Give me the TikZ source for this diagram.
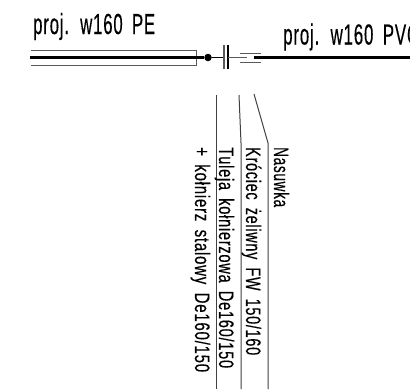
\documentclass[tikz,border=0pt]{standalone}
\usepackage{fontspec}
\setmainfont[WordSpace=1.7,FakeBold=0.4,LetterSpace=5]{Liberation Sans}
\newcommand{\fit}[3]{\resizebox{#1pt}{\height}{\fontsize{#2}{#2}\selectfont #3}}
\tikzset{
  x=1pt,y=-1pt,
  lbl/.style={inner sep=0pt,anchor=base west,text=black},
  vlbl/.style={lbl,rotate=-90},
  thin line/.style={draw=black,line width=1pt},
  gray line/.style={draw=black!65,line width=1pt},
  heavy/.style={draw=black,line width=2.4pt},
  leader/.style={draw=black!75,line width=1pt}
}
\begin{document}
\begin{tikzpicture}
\useasboundingbox (0,0) rectangle (410,389);
\clip (0,0) rectangle (410,389);
\fill[white] (0,0) rectangle (410,389);
\node[lbl] (pe) at (33,34) {\fit{122}{29}{proj. w160 PE}};
\node[lbl] (pvc) at (283,44.5) {\fit{136}{29}{proj. w160 PVC}};
% PE pipe
\draw[gray line] (31,50) -- (196,50) -- (196,65) -- (31,65);
\coordinate (peL) at (30,57.5);
\node[circle,fill=black,inner sep=0pt,minimum size=7.5pt] (dot) at (208,57.5) {};
\draw[heavy] (peL) -- (dot);
% flange
\coordinate (fl) at (224,45); \coordinate (flb) at (224,69);
\coordinate (fr) at (228,45); \coordinate (frb) at (228,69);
\coordinate (f1) at (224,57.5);
\coordinate (f2) at (228,57.5);
\coordinate (f3) at (247,57.5);
\draw[thin line] (dot) -- (f1);
\draw[gray line,line width=1.3pt] (fl) -- (flb);
\draw[draw=black,line width=1.8pt] (fr) -- (frb);
\draw[gray line] (f2) -- (f3);
% sleeve
\coordinate (s1) at (240,53.3); \coordinate (s2) at (261,53.3);
\coordinate (s3) at (240,62); \coordinate (s4) at (261,62);
\draw[gray line] (s1) -- (s2);
\draw[gray line] (s3) -- (s4);
\coordinate (pvcL) at (254,57.5); \coordinate (pvcR) at (410,57.5);
\draw[heavy] (pvcL) -- (pvcR);
% leaders
\coordinate (a1) at (216,95); \coordinate (a2) at (216,389);
\coordinate (b1) at (239,95); \coordinate (b2) at (241,143); \coordinate (b3) at (241,389);
\coordinate (c1) at (254,94); \coordinate (c2) at (268,143); \coordinate (c3) at (268,389);
\draw[leader] (a1) -- (a2);
\draw[leader] (b1) -- (b2) -- (b3);
\draw[leader] (c1) -- (c2) -- (c3);
% labels
\node[vlbl] (t1) at (274,147) {\fit{60}{21}{Nasuwka}};
\node[vlbl] (t2) at (246,147) {\fit{208}{21}{Króciec żeliwny FW 150/160}};
\node[vlbl] (t3) at (219,147) {\fit{221}{21}{Tuleja kołnierzowa De160/150}};
\node[vlbl] (t4) at (195,147) {\fit{225}{21}{+ kołnierz stalowy De160/150}};
\end{tikzpicture}
\end{document}
